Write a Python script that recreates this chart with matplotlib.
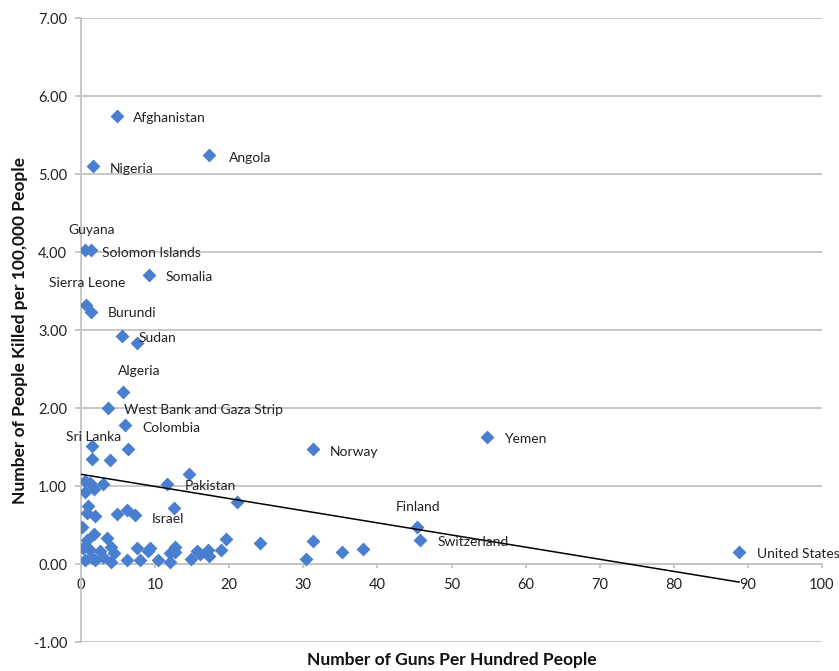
import matplotlib
matplotlib.use("Agg")
import matplotlib.pyplot as plt
import numpy as np

plt.rcParams['font.family'] = ['Lato', 'DejaVu Sans']

# ---- data ----
labeled_names = ["Afghanistan", "Angola", "Nigeria", "Guyana", "Solomon Islands",
                 "Somalia", "Sierra Leone", "Burundi", "Sudan", "Algeria",
                 "West Bank and Gaza Strip", "Colombia", "Sri Lanka", "Norway",
                 "Yemen", "Pakistan", "Israel", "Finland", "Switzerland",
                 "United States"]
labeled_guns = [4.8, 17.3, 1.6, 0.5, 1.4, 9.2, 0.7, 1.3, 5.5, 5.7,
                3.6, 6.0, 1.5, 31.3, 54.8, 11.6, 7.3, 45.3, 45.7, 88.8]
labeled_deaths = [5.74, 5.24, 5.10, 4.02, 4.02, 3.71, 3.32, 3.23, 2.92, 2.21,
                  2.00, 1.78, 1.51, 1.47, 1.63, 1.03, 0.63, 0.47, 0.31, 0.16]

other_guns = [7.6, 6.4, 1.44, 3.9, 14.6, 21.1, 12.5,
              0.5, 1.2, 3.0, 0.5, 1.8, 1.0, 0.8, 1.9, 0.1, 1.7, 4.8, 6.2,
              0.8, 3.5, 0.3, 1.2, 2.6, 4.1, 4.4, 7.5, 9.1, 0.5, 1.9, 3.0, 4.1,
              6.2, 8.0, 9.3, 10.4, 12.0, 12.0, 12.7, 12.7, 14.9, 15.6, 17.2,
              17.3, 18.9, 19.6, 24.2, 31.3, 30.4, 35.2, 38.0, 1.4, 16.1]
other_deaths = [2.83, 1.47, 1.35, 1.33, 1.15, 0.79, 0.72,
                1.06, 1.04, 1.03, 0.92, 0.96, 0.75, 0.65, 0.62, 0.48, 0.39, 0.64, 0.69,
                0.31, 0.33, 0.20, 0.18, 0.17, 0.22, 0.14, 0.21, 0.17, 0.05, 0.05, 0.09, 0.03,
                0.05, 0.05, 0.20, 0.05, 0.03, 0.14, 0.22, 0.16, 0.06, 0.17, 0.18,
                0.10, 0.18, 0.32, 0.27, 0.29, 0.06, 0.16, 0.19, 0.09, 0.13]

# linear trendline (y = intercept + slope * x)
trend_intercept = 1.15
trend_slope = -0.01556

x_ticks = [0, 10, 20, 30, 40, 50, 60, 70, 80, 90, 100]
y_ticks = [-1, 0, 1, 2, 3, 4, 5, 6, 7]

x_title = "Number of Guns Per Hundred People"
y_title = "Number of People Killed per 100,000 People"

# label offsets in points (dx, dy)
label_offsets = {
    "Afghanistan": (12, -1.5), "Angola": (14, -2), "Nigeria": (12, -2),
    "Guyana": (-12, 15), "Solomon Islands": (8, -2), "Somalia": (12, -1.5),
    "Sierra Leone": (-27, 16), "Burundi": (12, -1), "Sudan": (12, -1),
    "Algeria": (-4, 15), "West Bank and Gaza Strip": (12, -1.5),
    "Colombia": (12, -2), "Sri Lanka": (-19, 6.5), "Norway": (12, -2),
    "Yemen": (12, -1.5), "Pakistan": (13, -1.5), "Israel": (12, -3),
    "Finland": (-15, 15), "Switzerland": (13, -1.5), "United States": (13, -2),
}

# ---- figure ----
fig = plt.figure(figsize=(8.39, 6.71), dpi=100)
ax = fig.add_axes([81/839, 1-642/671, (822-81)/839, (642-18)/671])

grid_c = '#c4c4c4'
blue = '#4A7FD0'

all_x = np.array(labeled_guns + other_guns)
all_y = np.array(labeled_deaths + other_deaths)

ax.scatter(all_x, all_y, marker='D', s=50, color=blue, linewidths=0, zorder=3)

tx = np.array([0.0, all_x.max()])
ax.plot(tx, trend_intercept + trend_slope*tx, color='black', lw=1.1, zorder=4)

for name, gx, dy in zip(labeled_names, labeled_guns, labeled_deaths):
    ox, oy = label_offsets[name]
    ax.annotate(name, (gx, dy), xytext=(ox, oy), textcoords='offset points',
                ha='left', va='center', fontsize=10, color='#222222', zorder=5)

ax.set_xlim(0, 100)
ax.set_ylim(-1, 7)
ax.set_xticks(x_ticks)
ax.set_yticks(y_ticks)
ax.set_yticklabels([f"{v:.2f}" for v in y_ticks])
ax.yaxis.grid(True, color=grid_c, lw=1.3, zorder=0)
ax.set_axisbelow(True)

for s in ['top', 'right']:
    ax.spines[s].set_visible(False)
ax.spines['bottom'].set_position(('data', 0))
ax.spines['bottom'].set_color(grid_c)
ax.spines['bottom'].set_linewidth(1.3)
ax.spines['left'].set_color(grid_c)
ax.spines['left'].set_linewidth(1.3)

ax.tick_params(axis='y', length=4, width=1.3, color=grid_c, pad=6,
               labelsize=10.5, labelcolor='#222222')
ax.tick_params(axis='x', length=3, width=1.3, color=grid_c, pad=7,
               labelsize=10.5, labelcolor='#222222')

fig.text(451.5/839, 1-660/671, x_title, ha='center', va='center',
         fontsize=12.5, fontweight='bold', color='#111111')
fig.text(20/839, 1-331/671, y_title, ha='center', va='center', rotation=90,
         fontsize=12.5, fontweight='bold', color='#111111')

fig.savefig('out.png', dpi=100)
